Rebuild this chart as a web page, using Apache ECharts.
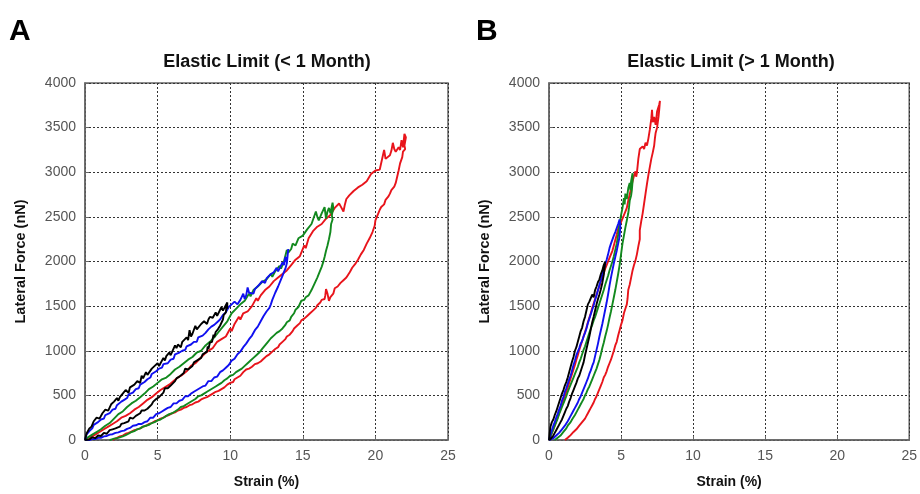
<!DOCTYPE html>
<html>
<head>
<meta charset="utf-8">
<script src="https://cdn.jsdelivr.net/npm/echarts@6/dist/echarts.min.js"></script>
<style>
html,body{margin:0;padding:0;background:#fff;}
#chart{width:920px;height:494px;}
</style>
</head>
<body>
<div id="chart"></div>
<script>
// ---------- data (strain %, lateral force nN) ----------
const panelTitles = ['Elastic Limit (< 1 Month)', 'Elastic Limit (> 1 Month)'];
const panelLetters = ['A', 'B'];
const xTicks = [0, 5, 10, 15, 20, 25];
const yTicks = [0, 500, 1000, 1500, 2000, 2500, 3000, 3500, 4000];
const seriesColors = { red: '#e8141b', green: '#12891e', blue: '#1010f0', black: '#000000' };

// Panel A (< 1 month): each loop = loading branch then unloading branch
const aRed = [
[0.2,0],[0.4,30],[0.5,20],[0.7,60],[0.8,50],[1.0,90],[1.1,80],[1.3,120],[1.4,110],[1.6,150],[1.7,140],[1.9,180],[2.0,170],[2.2,210],[2.3,200],[2.5,250],[2.6,240],[2.8,270],[2.9,260],[3.1,300],[3.2,290],[3.4,340],[3.5,330],[3.7,370],[3.8,360],[4.0,410],[4.1,400],[4.3,450],[4.4,440],[4.6,480],[4.7,470],[4.9,520],[5.0,510],[5.2,560],[5.3,550],[5.5,590],[5.6,580],[5.8,620],[5.9,610],[6.1,660],[6.2,650],[6.4,700],[6.5,690],[6.7,730],[6.8,720],[7.0,770],[7.1,760],[7.3,830],[7.4,810],[7.6,860],[7.7,850],[7.9,910],[8.0,890],[8.2,960],[8.3,940],[8.5,1000],[8.6,980],[8.8,1030],[8.9,1020],[9.1,1100],[9.2,1080],[9.4,1130],[9.5,1120],[9.7,1160],[9.8,1150],[10.0,1250],[10.1,1220],[10.3,1300],[10.4,1280],[10.6,1380],[10.7,1350],[10.9,1420],[11.0,1400],[11.2,1440],[11.3,1430],[11.5,1500],[11.6,1480],[11.8,1590],[11.9,1560],[12.1,1620],[12.2,1600],[12.4,1680],[12.5,1660],[12.7,1720],[12.8,1700],[13.0,1780],[13.1,1760],[13.3,1820],[13.4,1800],[13.6,1860],[13.7,1850],[13.9,1900],[14.0,1890],[14.2,1960],[14.3,1940],[14.5,2020],[14.6,2000],[14.8,2060],[14.9,2050],[15.1,2180],[15.2,2150],[15.4,2260],[15.5,2240],[15.7,2340],[15.8,2320],[16.0,2390],[16.1,2370],[16.3,2420],[16.4,2400],[16.6,2480],[16.7,2460],[16.9,2520],[17.0,2500],[17.2,2600],[17.3,2580],[17.5,2650],[17.6,2620],[17.8,2560],[17.9,2640],[18.0,2700],[18.2,2740],[18.3,2720],[18.5,2790],[18.6,2770],[18.8,2830],[18.9,2810],[19.1,2860],[19.2,2840],[19.4,2900],[19.5,2890],[19.7,2980],[19.8,2960],[20.0,3020],[20.1,3000],[20.3,3030],[20.4,3020],[20.6,3250],[20.7,3150],[20.8,3170],[21.0,3190],[21.1,3240],[21.2,3330],[21.3,3260],[21.4,3230],[21.6,3280],[21.7,3250],[21.8,3360],[21.9,3280],[22.0,3430],
[22.1,3390],[22.0,3300],[22.05,3260],[21.9,3230],[21.85,3170],[21.8,3150],[21.7,3100],[21.65,3060],[21.6,3020],[21.5,2950],[21.45,2960],[21.4,2880],[21.3,2840],[21.2,2850],[21.1,2800],[21.0,2760],[20.9,2730],[20.8,2720],[20.7,2690],[20.6,2640],[20.5,2620],[20.4,2610],[20.3,2580],[20.2,2540],[20.1,2520],[20.0,2460],[19.95,2400],[19.9,2410],[19.8,2330],[19.7,2310],[19.6,2260],[19.5,2250],[19.4,2200],[19.3,2190],[19.2,2130],[19.1,2120],[19.0,2080],[18.9,2070],[18.8,2020],[18.7,2010],[18.6,1970],[18.5,1970],[18.4,1930],[18.3,1900],[18.2,1870],[18.1,1860],[18.0,1820],[17.9,1820],[17.8,1790],[17.7,1770],[17.6,1760],[17.5,1760],[17.4,1720],[17.3,1740],[17.2,1700],[17.1,1640],[17.0,1620],[16.9,1600],[16.8,1560],[16.7,1640],[16.6,1690],[16.55,1620],[16.5,1580],[16.4,1590],[16.3,1570],[16.2,1540],[16.1,1520],[16.0,1510],[15.9,1480],[15.8,1470],[15.7,1450],[15.6,1440],[15.5,1420],[15.4,1410],[15.3,1390],[15.2,1370],[15.1,1360],[15.0,1350],[14.9,1340],[14.8,1310],[14.7,1300],[14.6,1280],[14.5,1260],[14.4,1250],[14.3,1220],[14.2,1200],[14.1,1180],[14.0,1180],[13.9,1160],[13.8,1130],[13.7,1120],[13.6,1100],[13.5,1080],[13.4,1070],[13.3,1040],[13.2,1040],[13.1,1020],[13.0,1000],[12.9,990],[12.8,980],[12.7,960],[12.6,950],[12.5,940],[12.4,920],[12.3,910],[12.2,900],[12.1,880],[12.0,870],[11.9,860],[11.8,860],[11.7,850],[11.6,830],[11.5,820],[11.4,810],[11.3,800],[11.2,800],[11.1,790],[11.0,770],[10.9,760],[10.8,740],[10.7,720],[10.6,720],[10.5,700],[10.4,690],[10.3,680],[10.2,650],[10.1,640],[10.0,640],[9.9,630],[9.8,620],[9.7,610],[9.6,590],[9.5,580],[9.4,570],[9.3,560],[9.2,550],[9.1,540],[9.0,540],[8.9,530],[8.8,520],[8.7,510],[8.6,500],[8.5,490],[8.4,480],[8.3,470],[8.2,470],[8.1,460],[8.0,455],[7.9,450],[7.8,430],[7.7,420],[7.6,420],[7.5,410],[7.4,400],[7.3,390],[7.2,390],[7.1,380],[7.0,370],[6.9,360],[6.8,360],[6.7,350],[6.6,340],[6.5,330],[6.4,330],[6.3,320],[6.2,310],[6.1,300],[6.0,300],[5.9,290],[5.8,280],[5.7,270],[5.6,270],[5.5,260],[5.4,250],[5.3,240],[5.2,240],[5.1,230],[5.0,220],[4.9,210],[4.8,210],[4.7,200],[4.6,190],[4.5,180],[4.4,180],[4.3,170],[4.2,160],[4.1,150],[4.0,150],[3.9,140],[3.8,130],[3.7,120],[3.6,120],[3.5,110],[3.4,110],[3.3,100],[3.2,95],[3.1,90],[3.0,80],[2.9,70],[2.8,70],[2.7,60],[2.6,50],[2.5,40],[2.4,40],[2.3,30],[2.2,25],[2.1,15],[2.0,10],[1.9,0]
];
const aGreen = [
[0,0],[0.2,30],[0.3,20],[0.5,60],[0.6,50],[0.8,90],[0.9,80],[1.1,120],[1.2,110],[1.4,160],[1.5,150],[1.7,190],[1.8,180],[2.0,240],[2.1,230],[2.3,290],[2.4,280],[2.6,320],[2.7,310],[2.9,370],[3.0,350],[3.2,410],[3.3,400],[3.5,440],[3.6,430],[3.8,480],[3.9,470],[4.1,520],[4.2,510],[4.4,570],[4.5,550],[4.7,600],[4.8,590],[5.0,640],[5.1,630],[5.3,680],[5.4,660],[5.6,700],[5.7,690],[5.9,740],[6.0,730],[6.2,790],[6.3,770],[6.5,820],[6.6,800],[6.8,860],[6.9,840],[7.1,900],[7.2,880],[7.4,930],[7.5,920],[7.7,980],[7.8,960],[8.0,1000],[8.1,990],[8.3,1060],[8.4,1040],[8.6,1100],[8.7,1080],[8.9,1150],[9.0,1130],[9.2,1210],[9.3,1190],[9.5,1270],[9.6,1250],[9.8,1330],[9.9,1310],[10.1,1420],[10.2,1400],[10.4,1470],[10.5,1450],[10.7,1520],[10.8,1500],[11.0,1560],[11.1,1550],[11.3,1640],[11.4,1610],[11.6,1680],[11.7,1660],[11.9,1720],[12.0,1700],[12.2,1770],[12.3,1750],[12.5,1800],[12.6,1790],[12.8,1860],[12.9,1830],[13.1,1890],[13.2,1870],[13.4,1950],[13.5,1920],[13.7,2000],[13.8,1980],[13.9,2130],[14.0,2100],[14.2,2140],[14.3,2200],[14.5,2180],[14.7,2260],[14.8,2240],[15.0,2290],[15.1,2280],[15.3,2360],[15.4,2340],[15.6,2420],[15.7,2440],[15.9,2560],[16.0,2500],[16.1,2460],[16.3,2540],[16.4,2520],[16.5,2610],[16.6,2480],[16.7,2560],[16.8,2600],[16.9,2540],[17.05,2660],
[17.1,2600],[17.0,2520],[17.05,2470],[16.95,2420],[16.9,2330],[16.85,2340],[16.8,2250],[16.7,2180],[16.65,2190],[16.6,2120],[16.5,2050],[16.45,2060],[16.4,1990],[16.3,1940],[16.2,1900],[16.1,1880],[16.0,1820],[15.9,1810],[15.8,1750],[15.7,1730],[15.6,1680],[15.5,1670],[15.4,1620],[15.3,1630],[15.2,1600],[15.1,1570],[15.0,1560],[14.9,1560],[14.8,1540],[14.7,1490],[14.6,1470],[14.5,1460],[14.4,1420],[14.3,1410],[14.2,1380],[14.1,1340],[14.0,1330],[13.9,1320],[13.8,1290],[13.6,1250],[13.5,1250],[13.4,1220],[13.2,1200],[13.1,1190],[13.0,1170],[12.8,1140],[12.7,1130],[12.6,1100],[12.4,1060],[12.3,1060],[12.2,1020],[12.0,980],[11.9,980],[11.8,950],[11.6,920],[11.5,920],[11.4,890],[11.2,860],[11.1,860],[11.0,830],[10.8,800],[10.7,800],[10.6,780],[10.4,760],[10.3,760],[10.2,730],[10.0,720],[9.9,710],[9.8,690],[9.6,670],[9.5,670],[9.4,640],[9.2,620],[9.1,620],[9.0,600],[8.8,580],[8.7,580],[8.6,560],[8.4,540],[8.3,540],[8.2,520],[8.0,500],[7.9,500],[7.8,490],[7.6,460],[7.5,460],[7.4,440],[7.2,420],[7.1,420],[7.0,400],[6.8,380],[6.7,380],[6.6,370],[6.4,340],[6.3,340],[6.2,320],[6.0,300],[5.9,300],[5.8,290],[5.6,270],[5.5,270],[5.4,250],[5.2,230],[5.1,230],[5.0,220],[4.8,200],[4.7,200],[4.6,190],[4.4,170],[4.3,170],[4.2,160],[4.0,150],[3.9,145],[3.8,130],[3.6,120],[3.5,115],[3.4,100],[3.2,90],[3.1,85],[3.0,70],[2.8,55],[2.7,55],[2.6,40],[2.4,30],[2.3,30],[2.2,20],[2.0,15],[1.8,5],[1.7,0]
];
const aBlue = [
[0,0],[0.1,60],[0.2,40],[0.3,100],[0.5,130],[0.6,170],[0.7,150],[0.9,200],[1.0,180],[1.1,230],[1.3,240],[1.4,280],[1.5,260],[1.7,300],[1.8,290],[1.9,340],[2.1,350],[2.2,390],[2.3,370],[2.5,430],[2.6,410],[2.7,450],[2.9,470],[3.0,510],[3.1,490],[3.3,530],[3.4,520],[3.5,570],[3.7,580],[3.8,620],[3.9,600],[4.1,650],[4.2,630],[4.3,680],[4.5,700],[4.6,740],[4.7,720],[4.9,770],[5.0,750],[5.1,800],[5.3,810],[5.4,850],[5.5,830],[5.7,860],[5.8,850],[5.9,900],[6.1,910],[6.2,960],[6.3,940],[6.5,980],[6.6,960],[6.7,1000],[6.9,1010],[7.0,1050],[7.1,1030],[7.3,1070],[7.4,1060],[7.5,1100],[7.7,1100],[7.8,1150],[7.9,1130],[8.1,1170],[8.2,1160],[8.3,1200],[8.5,1240],[8.6,1230],[8.7,1270],[8.9,1290],[9.0,1280],[9.1,1320],[9.3,1350],[9.4,1340],[9.5,1400],[9.7,1430],[9.8,1420],[9.9,1490],[10.1,1520],[10.2,1500],[10.3,1550],[10.5,1520],[10.6,1540],[10.7,1570],[10.9,1640],[11.0,1580],[11.1,1620],[11.2,1710],[11.3,1650],[11.4,1670],[11.6,1640],[11.7,1690],[11.8,1710],[12.0,1740],[12.1,1720],[12.2,1780],[12.4,1760],[12.5,1810],[12.6,1830],[12.8,1860],[12.9,1840],[13.0,1880],[13.2,1930],[13.3,1890],[13.4,1910],[13.6,1990],[13.7,1960],[13.8,2050],[13.9,1990],[14.0,2140],
[13.95,2060],[13.9,1980],[13.85,2000],[13.8,1920],[13.7,1880],[13.65,1890],[13.6,1840],[13.5,1800],[13.4,1780],[13.3,1720],[13.2,1700],[13.1,1650],[13.0,1630],[12.9,1570],[12.8,1520],[12.75,1530],[12.7,1480],[12.5,1440],[12.4,1430],[12.3,1390],[12.1,1330],[12.0,1320],[11.9,1270],[11.7,1230],[11.6,1230],[11.5,1170],[11.3,1130],[11.2,1140],[11.1,1080],[10.9,1040],[10.8,1040],[10.7,990],[10.5,960],[10.4,960],[10.3,910],[10.1,890],[10.0,890],[9.9,840],[9.7,810],[9.6,830],[9.5,780],[9.3,760],[9.2,770],[9.1,710],[8.9,700],[8.8,710],[8.7,660],[8.5,660],[8.4,640],[8.3,610],[8.1,600],[8.0,610],[7.9,580],[7.7,560],[7.6,570],[7.5,540],[7.3,520],[7.2,530],[7.1,490],[6.9,490],[6.8,480],[6.7,450],[6.5,440],[6.4,440],[6.3,410],[6.1,410],[6.0,400],[5.9,370],[5.7,360],[5.6,360],[5.5,340],[5.3,320],[5.2,320],[5.1,300],[4.9,290],[4.8,280],[4.7,250],[4.5,250],[4.4,240],[4.3,210],[4.1,200],[4.0,200],[3.9,180],[3.7,180],[3.5,165],[3.3,160],[3.1,135],[2.9,125],[2.7,105],[2.5,100],[2.3,85],[2.1,80],[1.9,65],[1.7,60],[1.5,45],[1.3,40],[1.1,25],[0.9,25],[0.7,10],[0.5,10],[0.3,0],[0,0]
];
const aBlack = [
[0,0],[0.1,70],[0.2,50],[0.3,130],[0.45,150],[0.6,210],[0.7,190],[0.8,250],[1.0,240],[1.2,300],[1.3,280],[1.4,340],[1.6,330],[1.8,400],[1.9,380],[2.0,430],[2.2,470],[2.3,440],[2.4,480],[2.6,520],[2.7,500],[2.8,560],[3.0,530],[3.1,590],[3.2,570],[3.4,620],[3.5,600],[3.6,660],[3.8,640],[3.9,720],[4.0,690],[4.2,760],[4.3,730],[4.4,740],[4.6,800],[4.7,780],[4.8,830],[5.0,860],[5.1,830],[5.2,850],[5.4,920],[5.5,890],[5.6,940],[5.8,980],[5.9,950],[6.0,970],[6.2,1060],[6.3,1030],[6.4,1070],[6.6,1040],[6.7,1100],[6.8,1120],[7.0,1150],[7.1,1120],[7.2,1230],[7.3,1160],[7.4,1190],[7.6,1280],[7.7,1240],[7.8,1260],[8.0,1300],[8.1,1280],[8.2,1330],[8.4,1300],[8.5,1350],[8.6,1380],[8.8,1370],[9.0,1430],[9.1,1390],[9.2,1410],[9.4,1490],[9.5,1450],[9.6,1470],[9.8,1540],[9.9,1560],
[9.8,1470],[9.75,1500],[9.7,1430],[9.55,1400],[9.5,1350],[9.4,1340],[9.3,1280],[9.2,1300],[9.15,1240],[9.0,1210],[8.9,1150],[8.85,1180],[8.75,1100],[8.6,1090],[8.5,1020],[8.45,1050],[8.4,990],[8.3,970],[8.1,960],[8.0,920],[7.9,930],[7.7,890],[7.5,870],[7.4,830],[7.3,850],[7.1,790],[6.9,800],[6.8,750],[6.7,760],[6.5,710],[6.3,690],[6.2,660],[6.1,670],[5.9,610],[5.8,630],[5.7,580],[5.5,580],[5.4,530],[5.3,540],[5.1,480],[5.0,500],[4.9,460],[4.7,430],[4.6,400],[4.5,410],[4.3,350],[4.2,370],[4.1,330],[3.9,330],[3.8,300],[3.7,310],[3.5,270],[3.4,290],[3.3,240],[3.1,250],[3.0,210],[2.9,220],[2.7,190],[2.5,180],[2.4,150],[2.3,160],[2.1,130],[1.9,120],[1.8,100],[1.7,110],[1.5,70],[1.3,80],[1.1,45],[0.9,50],[0.7,20],[0.5,30],[0.3,5],[0,0]
];

// Panel B (> 1 month)
const bRed = [
[0,0],[0.1,40],[0.2,80],[0.3,120],[0.4,160],[0.5,210],[0.6,250],[0.7,300],[0.8,350],[0.9,400],[1.0,450],[1.1,490],[1.2,540],[1.3,590],[1.4,640],[1.5,690],[1.6,740],[1.7,790],[1.8,840],[1.9,900],[2.0,950],[2.1,1010],[2.2,1060],[2.3,1110],[2.4,1160],[2.5,1210],[2.6,1260],[2.7,1320],[2.8,1370],[2.9,1420],[3.0,1480],[3.1,1530],[3.2,1580],[3.3,1630],[3.4,1680],[3.5,1720],[3.6,1780],[3.7,1830],[3.8,1870],[3.9,1920],[4.0,1960],[4.1,2000],[4.2,2040],[4.3,2080],[4.4,2120],[4.5,2180],[4.6,2240],[4.7,2300],[4.8,2370],[4.9,2410],[5.0,2440],[5.1,2480],[5.2,2520],[5.3,2560],[5.4,2600],[5.5,2680],[5.6,2750],[5.7,2820],[5.8,2900],[5.9,2960],[6.0,3010],[6.05,2950],[6.1,2990],[6.2,3150],[6.3,3260],[6.4,3240],[6.5,3290],[6.6,3260],[6.7,3330],[6.8,3300],[6.9,3380],[7.0,3480],[7.1,3600],[7.15,3700],[7.2,3560],[7.3,3620],[7.4,3530],[7.5,3680],[7.6,3700],[7.65,3760],[7.7,3800],
[7.65,3700],[7.6,3620],[7.55,3560],[7.5,3500],[7.4,3440],[7.35,3380],[7.3,3300],[7.2,3220],[7.1,3150],[7.0,3060],[6.9,2970],[6.8,2870],[6.7,2760],[6.6,2650],[6.5,2540],[6.4,2450],[6.3,2350],[6.3,2250],[6.2,2170],[6.1,2080],[6.0,2010],[5.9,1960],[5.8,1900],[5.7,1820],[5.6,1740],[5.5,1680],[5.45,1580],[5.4,1520],[5.3,1470],[5.2,1420],[5.1,1340],[5.0,1290],[4.9,1230],[4.8,1170],[4.7,1100],[4.6,1060],[4.5,1000],[4.4,950],[4.3,900],[4.2,860],[4.1,820],[4.0,770],[3.9,730],[3.8,700],[3.7,650],[3.6,610],[3.5,570],[3.4,530],[3.3,490],[3.2,460],[3.1,420],[3.0,390],[2.9,360],[2.8,330],[2.7,300],[2.6,270],[2.5,240],[2.4,220],[2.3,200],[2.2,180],[2.1,160],[2.0,140],[1.9,120],[1.8,100],[1.7,90],[1.6,70],[1.5,55],[1.4,40],[1.3,25],[1.2,10],[1.1,0]
];
const bGreen = [
[0,0],[0.1,40],[0.2,80],[0.3,120],[0.4,160],[0.5,200],[0.6,240],[0.7,290],[0.8,330],[0.9,370],[1.0,410],[1.1,450],[1.2,490],[1.3,540],[1.4,580],[1.5,620],[1.6,660],[1.7,700],[1.8,740],[1.9,780],[2.0,820],[2.1,870],[2.2,910],[2.3,960],[2.4,1010],[2.5,1050],[2.6,1100],[2.7,1150],[2.8,1200],[2.9,1250],[3.0,1290],[3.1,1340],[3.2,1380],[3.3,1430],[3.4,1480],[3.5,1530],[3.6,1580],[3.7,1630],[3.8,1680],[3.9,1740],[4.0,1790],[4.1,1840],[4.2,1900],[4.3,1950],[4.4,2000],[4.5,2060],[4.6,2130],[4.7,2200],[4.8,2300],[4.9,2420],[5.0,2520],[5.1,2600],[5.2,2710],[5.25,2640],[5.3,2760],[5.4,2700],[5.5,2820],[5.6,2880],[5.65,2800],[5.7,2900],[5.8,2990],
[5.8,2900],[5.75,2800],[5.7,2740],[5.6,2680],[5.55,2600],[5.5,2540],[5.4,2460],[5.3,2380],[5.2,2290],[5.1,2200],[5.0,2080],[4.9,1960],[4.8,1860],[4.7,1770],[4.6,1680],[4.5,1600],[4.4,1520],[4.3,1440],[4.2,1370],[4.1,1290],[4.0,1220],[3.9,1160],[3.8,1090],[3.7,1030],[3.6,960],[3.5,900],[3.4,850],[3.3,800],[3.2,760],[3.1,720],[3.0,680],[2.9,640],[2.8,600],[2.7,570],[2.6,530],[2.5,500],[2.4,460],[2.3,430],[2.2,400],[2.1,370],[2.0,340],[1.9,310],[1.8,280],[1.7,260],[1.6,230],[1.5,200],[1.4,180],[1.3,160],[1.2,130],[1.1,110],[1.0,90],[0.9,70],[0.8,50],[0.7,35],[0.6,25],[0.5,10],[0.4,0]
];
const bBlue = [
[0,0],[0.1,60],[0.2,110],[0.3,160],[0.4,200],[0.5,250],[0.6,290],[0.7,340],[0.8,380],[0.9,440],[1.0,480],[1.1,540],[1.2,580],[1.3,630],[1.4,680],[1.5,720],[1.6,780],[1.7,840],[1.8,890],[1.9,950],[2.0,990],[2.1,1030],[2.2,1080],[2.3,1110],[2.4,1160],[2.5,1200],[2.6,1250],[2.7,1310],[2.8,1360],[2.9,1410],[3.0,1460],[3.1,1510],[3.2,1570],[3.3,1620],[3.4,1680],[3.5,1740],[3.6,1790],[3.7,1860],[3.8,1910],[3.9,1970],[4.0,2020],[4.1,2080],[4.2,2150],[4.3,2200],[4.4,2180],[4.5,2290],[4.6,2330],[4.7,2310],[4.8,2420],[4.9,2470],
[4.95,2390],[4.9,2280],[4.8,2200],[4.7,2120],[4.6,2050],[4.5,1980],[4.4,1900],[4.3,1820],[4.2,1730],[4.1,1630],[4.0,1540],[3.9,1460],[3.8,1380],[3.7,1300],[3.6,1230],[3.5,1160],[3.4,1080],[3.3,1010],[3.2,940],[3.1,870],[3.0,830],[2.9,780],[2.8,740],[2.7,690],[2.6,650],[2.5,610],[2.4,570],[2.3,530],[2.2,490],[2.1,460],[2.0,420],[1.9,390],[1.8,360],[1.7,330],[1.6,300],[1.5,270],[1.4,240],[1.3,210],[1.2,190],[1.1,160],[1.0,140],[0.9,120],[0.8,100],[0.7,80],[0.6,60],[0.5,50],[0.4,35],[0.3,20],[0.2,10],[0,0]
];
const bBlack = [
[0,0],[0.05,80],[0.1,150],[0.2,200],[0.3,230],[0.4,280],[0.5,320],[0.6,370],[0.7,420],[0.8,470],[0.9,520],[1.0,560],[1.1,610],[1.2,650],[1.3,700],[1.4,760],[1.5,820],[1.6,880],[1.7,930],[1.8,1000],[1.9,1040],[2.0,1100],[2.1,1160],[2.2,1220],[2.3,1260],[2.4,1330],[2.5,1380],[2.6,1450],[2.7,1520],[2.8,1550],[2.9,1570],[3.0,1630],[3.1,1600],[3.2,1680],[3.3,1720],[3.4,1770],[3.5,1800],[3.6,1860],[3.7,1900],[3.8,1960],[3.9,2000],
[3.85,1920],[3.8,1850],[3.7,1760],[3.6,1690],[3.5,1630],[3.4,1580],[3.3,1520],[3.2,1450],[3.1,1380],[3.0,1320],[2.9,1240],[2.8,1160],[2.7,1090],[2.6,1020],[2.5,950],[2.4,870],[2.3,820],[2.2,770],[2.1,720],[2.0,690],[1.9,640],[1.8,600],[1.7,560],[1.6,520],[1.5,470],[1.4,430],[1.3,380],[1.2,350],[1.1,310],[1.0,270],[0.9,230],[0.8,200],[0.7,170],[0.6,140],[0.5,110],[0.4,80],[0.3,50],[0.2,30],[0.1,10],[0,0]
];

// ---------- chart ----------
const FONT = '"Liberation Sans", Arial, sans-serif';
const grids = [
  { left: 85, top: 83, width: 363, height: 362 },
  { left: 549, top: 83, width: 363, height: 362 }
];
const panelsData = [
  { red: aRed, green: aGreen, blue: aBlue, black: aBlack },
  { red: bRed, green: bGreen, blue: bBlue, black: bBlack }
];

function xAxisFor(i) {
  return {
    type: 'value', gridIndex: i, min: xTicks[0], max: xTicks[xTicks.length - 1], interval: 5,
    name: 'Strain (%)', nameLocation: 'middle', nameGap: 35,
    nameTextStyle: { fontFamily: FONT, fontWeight: 'bold', fontSize: 14, color: '#111' },
    axisLine: { show: true, lineStyle: { color: '#666', width: 1.5 } },
    axisTick: { show: true, inside: true, length: 4, lineStyle: { color: '#666' } },
    axisLabel: { fontFamily: FONT, fontSize: 14, color: '#555', margin: 9, formatter: v => String(v) },
    splitLine: { show: true, lineStyle: { type: [2, 2], color: '#333', width: 1 } }
  };
}
function yAxisFor(i) {
  return {
    type: 'value', gridIndex: i, min: yTicks[0], max: yTicks[yTicks.length - 1], interval: 500,
    name: 'Lateral Force (nN)', nameLocation: 'middle', nameGap: 57, nameRotate: 90,
    nameTextStyle: { fontFamily: FONT, fontWeight: 'bold', fontSize: 14.5, color: '#111' },
    axisLine: { show: true, lineStyle: { color: '#666', width: 1.5 } },
    axisTick: { show: true, inside: true, length: 4, lineStyle: { color: '#666' } },
    axisLabel: { fontFamily: FONT, fontSize: 14, color: '#555', margin: 9, formatter: v => String(v) },
    splitLine: { show: true, lineStyle: { type: [2, 2], color: '#333', width: 1 } }
  };
}

const series = [];
panelsData.forEach((p, i) => {
  ['red', 'green', 'blue', 'black'].forEach(c => {
    series.push({
      type: 'line', xAxisIndex: i, yAxisIndex: i, data: p[c],
      showSymbol: false, symbol: 'none', smooth: false, animation: false,
      lineStyle: { color: seriesColors[c], width: 1.9 },
      z: 3
    });
  });
});

const chart = echarts.init(document.getElementById('chart'), null, { renderer: 'canvas' });
chart.setOption({
  backgroundColor: '#ffffff',
  animation: false,
  title: [
    { text: panelTitles[0], left: 262, top: 48, textAlign: 'center',
      textStyle: { fontFamily: FONT, fontWeight: 'bold', fontSize: 18, color: '#111' } },
    { text: panelTitles[1], left: 726, top: 48, textAlign: 'center',
      textStyle: { fontFamily: FONT, fontWeight: 'bold', fontSize: 18, color: '#111' } }
  ],
  graphic: [
    { type: 'text', left: 9, top: 17, style: { text: panelLetters[0], font: 'bold 30px ' + FONT, fill: '#000' } },
    { type: 'text', left: 476, top: 17, style: { text: panelLetters[1], font: 'bold 30px ' + FONT, fill: '#000' } }
  ],
  grid: grids.map(g => Object.assign({ show: true, borderColor: '#666', borderWidth: 1.5, backgroundColor: '#fff' }, g)),
  xAxis: [xAxisFor(0), xAxisFor(1)],
  yAxis: [yAxisFor(0), yAxisFor(1)],
  series: series
});
</script>
</body>
</html>
